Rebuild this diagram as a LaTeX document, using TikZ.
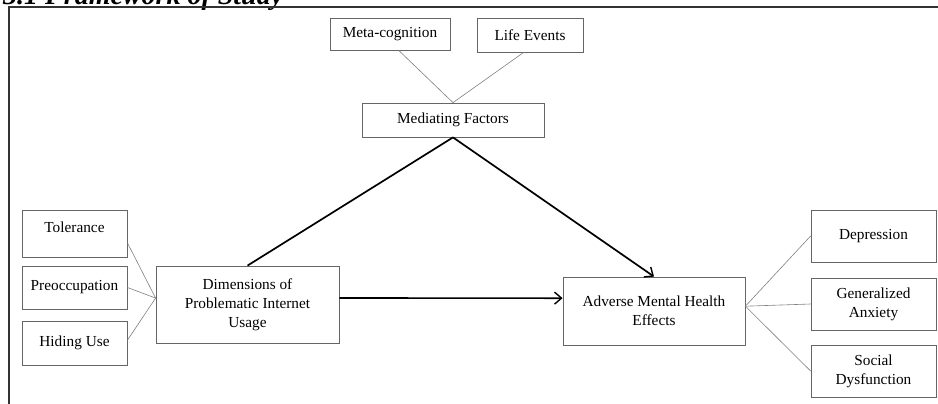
\documentclass[tikz,border=0pt]{standalone}
\usepackage{fontspec}
\setmainfont{Liberation Serif}
\usetikzlibrary{arrows.meta}

\begin{document}
\begin{tikzpicture}[x=1pt, y=-1pt,
    box/.style={draw=black!60, line width=0.8pt, align=center, inner sep=3pt,
        font=\fontsize{15.3}{19}\selectfont},
    link/.style={draw=black!50, line width=0.6pt},
    flow/.style={line width=1.7pt},
    flowarrow/.style={flow, -{Straight Barb[length=7pt, width=12pt, line width=1.4pt]}}]
    \clip (0,0) rectangle (938,404);

    % caption, cut off at the top of the page
    \node[anchor=base west, inner sep=0pt, font=\fontsize{28}{32}\selectfont\bfseries\itshape] (caption) at (3,4.5) {3.1 Framework of Study};

    % frame
    \draw[line width=1.2pt, black!80] (9,404) -- (9,7) -- (938,7);

    % mediating factors
    \node[box, minimum width=120, minimum height=32] (meta) at (390,34) {Meta-cognition};
    \node[box, minimum width=106, minimum height=34] (life) at (530,35) {Life Events};
    \node[box, minimum width=182, minimum height=34] (med) at (453,120) {Mediating Factors};

    % dimensions
    \node[box, minimum width=105, text height=17pt, text depth=20pt, inner ysep=5pt] (tol) at (74.5,233.5) {Tolerance};
    \node[box, minimum width=105, minimum height=43] (pre) at (74.5,287.5) {Preoccupation};
    \node[box, minimum width=105, minimum height=44] (hid) at (74.5,343) {Hiding Use};
    \node[box, minimum width=183, minimum height=77] (dim) at (247.5,304.5) {Dimensions of\\Problematic Internet\\Usage};

    % outcomes
    \node[box, minimum width=182, minimum height=68] (adv) at (654,311) {Adverse Mental Health\\Effects};
    \node[box, minimum width=125, minimum height=52] (dep) at (873.5,236) {Depression};
    \node[box, minimum width=125, minimum height=52] (gen) at (873.5,304) {Generalized\\Anxiety};
    \node[box, minimum width=125, minimum height=52] (soc) at (873.5,371) {Social\\Dysfunction};

    % thin links
    \draw[link] (meta.-62) -- (med.north);
    \draw[link] (life.-110) -- (med.north);
    \draw[link] (tol.-10) -- (dim.176);
    \draw[link] (pre.east) -- (dim.176);
    \draw[link] (hid.3) -- (dim.176);
    \draw[link] (adv.3) -- (dep.west);
    \draw[link] (adv.3) -- (gen.west);
    \draw[link] (adv.3) -- (soc.west);

    % main paths
    \draw[flow] (med.south) -- (dim.north);
    \draw[flowarrow] (med.south) -- (adv.north);
    \draw[flowarrow] (dim.4) -- (adv.172);
\end{tikzpicture}
\end{document}
